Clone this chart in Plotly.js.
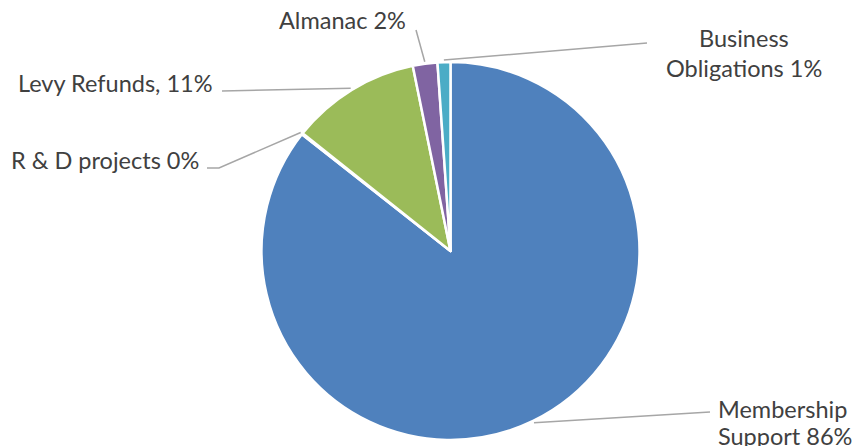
<!DOCTYPE html>
<html>
<head>
<meta charset="utf-8">
<script src="https://cdn.plot.ly/plotly-3.0.1.min.js"></script>
<style>html,body{margin:0;padding:0;background:#fff;}#chart{width:863px;height:446px;}</style>
</head>
<body>
<div id="chart"></div>
<script>
const labels = ['Membership Support', 'R & D projects', 'Levy Refunds', 'Almanac', 'Business Obligations'];
const values = [85.6, 0.1, 11.1, 2.1, 1.1];
const labelLines = [['Membership', 'Support 86%'], ['R & D projects 0%'], ['Levy Refunds, 11%'], ['Almanac 2%'], ['Business', 'Obligations 1%']];
const colors = ['#4F81BD', '#C0504D', '#9BBB59', '#8064A2', '#4BACC6'];

const W = 863, H = 446;
const cx = 450.5, cy = 251, R = 189;

// label layout: elbow points of leader line, first-line text anchor, line spacing
const leader = [
  {pts: [[710, 412]], tx: 716, ty: 409, dy: 27, xa: 'left'},
  {pts: [[219, 168], [207, 168]], tx: 201, ty: 160, dy: 0, xa: 'right'},
  {pts: [[222, 91]], tx: 215, ty: 83, dy: 0, xa: 'right'},
  {pts: [[416, 30]], tx: 342, ty: 20, dy: 0, xa: 'center'},
  {pts: [[647, 43]], tx: 744, ty: 38, dy: 30, xa: 'center'}
];

const px = x => x / W;
const py = y => 1 - y / H;

const total = values.reduce((a, b) => a + b, 0);
let cum = 0;
const shapes = [];
const annotations = [];
values.forEach((v, i) => {
  const th = 2 * Math.PI * (cum + v / 2) / total;
  cum += v;
  const sx = cx + (R + 2) * Math.sin(th);
  const sy = cy - (R + 2) * Math.cos(th);
  let path = `M ${px(sx)} ${py(sy)}`;
  leader[i].pts.forEach(p => { path += ` L ${px(p[0])} ${py(p[1])}`; });
  shapes.push({type: 'path', xref: 'paper', yref: 'paper', path: path,
    line: {color: '#A6A6A6', width: 1.5}});
  labelLines[i].forEach((t, k) => {
    annotations.push({xref: 'paper', yref: 'paper', x: px(leader[i].tx), y: py(leader[i].ty + k * leader[i].dy),
      xanchor: leader[i].xa, yanchor: 'middle', showarrow: false,
      text: t, font: {family: 'Lato, Carlito, sans-serif', size: 23.5, color: '#404040'}});
  });
});

const trace = {
  type: 'pie',
  labels: labels,
  values: values,
  sort: false,
  direction: 'clockwise',
  rotation: 0,
  textinfo: 'none',
  hoverinfo: 'label+percent',
  marker: {colors: colors, line: {color: '#FFFFFF', width: 2.5}},
  domain: {x: [(cx - R) / W, (cx + R) / W], y: [(H - cy - R) / H, (H - cy + R) / H]}
};

const layout = {
  width: W, height: H,
  margin: {l: 0, r: 0, t: 0, b: 0},
  paper_bgcolor: '#FFFFFF',
  showlegend: false,
  shapes: shapes,
  annotations: annotations
};

Plotly.newPlot('chart', [trace], layout, {displayModeBar: false, staticPlot: true});
</script>
</body>
</html>
